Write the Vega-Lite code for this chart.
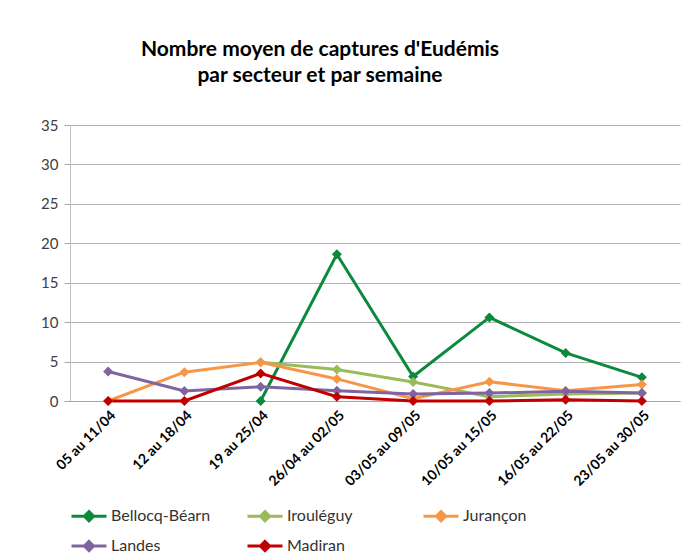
{
  "$schema": "https://vega.github.io/schema/vega-lite/v6.json",
  "width": 610,
  "height": 276,
  "autosize": "none",
  "padding": {"left": 70, "top": 125, "right": 11, "bottom": 154},
  "background": "white",
  "title": {
    "text": ["Nombre moyen de captures d'Eudémis", "par secteur et par semaine"],
    "font": "Lato",
    "fontSize": 21,
    "fontWeight": "bold",
    "color": "#000000",
    "lineHeight": 26,
    "anchor": "middle",
    "dx": -55,
    "offset": 32
  },
  "data": {
    "values": [
      {"semaine": "19 au 25/04", "secteur": "Bellocq-Béarn", "captures": 0},
      {"semaine": "26/04 au 02/05", "secteur": "Bellocq-Béarn", "captures": 18.6},
      {"semaine": "03/05 au 09/05", "secteur": "Bellocq-Béarn", "captures": 3.1},
      {"semaine": "10/05 au 15/05", "secteur": "Bellocq-Béarn", "captures": 10.6},
      {"semaine": "16/05 au 22/05", "secteur": "Bellocq-Béarn", "captures": 6.1},
      {"semaine": "23/05 au 30/05", "secteur": "Bellocq-Béarn", "captures": 3.0},
      {"semaine": "19 au 25/04", "secteur": "Irouléguy", "captures": 4.9},
      {"semaine": "26/04 au 02/05", "secteur": "Irouléguy", "captures": 4.0},
      {"semaine": "03/05 au 09/05", "secteur": "Irouléguy", "captures": 2.4},
      {"semaine": "10/05 au 15/05", "secteur": "Irouléguy", "captures": 0.55},
      {"semaine": "16/05 au 22/05", "secteur": "Irouléguy", "captures": 0.9},
      {"semaine": "23/05 au 30/05", "secteur": "Irouléguy", "captures": 1.0},
      {"semaine": "05 au 11/04", "secteur": "Jurançon", "captures": 0},
      {"semaine": "12 au 18/04", "secteur": "Jurançon", "captures": 3.65},
      {"semaine": "19 au 25/04", "secteur": "Jurançon", "captures": 4.9},
      {"semaine": "26/04 au 02/05", "secteur": "Jurançon", "captures": 2.8},
      {"semaine": "03/05 au 09/05", "secteur": "Jurançon", "captures": 0.3},
      {"semaine": "10/05 au 15/05", "secteur": "Jurançon", "captures": 2.45},
      {"semaine": "16/05 au 22/05", "secteur": "Jurançon", "captures": 1.3},
      {"semaine": "23/05 au 30/05", "secteur": "Jurançon", "captures": 2.1},
      {"semaine": "05 au 11/04", "secteur": "Landes", "captures": 3.75},
      {"semaine": "12 au 18/04", "secteur": "Landes", "captures": 1.27},
      {"semaine": "19 au 25/04", "secteur": "Landes", "captures": 1.8},
      {"semaine": "26/04 au 02/05", "secteur": "Landes", "captures": 1.3},
      {"semaine": "03/05 au 09/05", "secteur": "Landes", "captures": 0.9},
      {"semaine": "10/05 au 15/05", "secteur": "Landes", "captures": 1.0},
      {"semaine": "16/05 au 22/05", "secteur": "Landes", "captures": 1.25},
      {"semaine": "23/05 au 30/05", "secteur": "Landes", "captures": 1.0},
      {"semaine": "05 au 11/04", "secteur": "Madiran", "captures": 0},
      {"semaine": "12 au 18/04", "secteur": "Madiran", "captures": 0},
      {"semaine": "19 au 25/04", "secteur": "Madiran", "captures": 3.5},
      {"semaine": "26/04 au 02/05", "secteur": "Madiran", "captures": 0.55},
      {"semaine": "03/05 au 09/05", "secteur": "Madiran", "captures": 0},
      {"semaine": "10/05 au 15/05", "secteur": "Madiran", "captures": 0},
      {"semaine": "16/05 au 22/05", "secteur": "Madiran", "captures": 0.15},
      {"semaine": "23/05 au 30/05", "secteur": "Madiran", "captures": 0}
    ]
  },
  "encoding": {
    "x": {
      "field": "semaine",
      "type": "ordinal",
      "sort": ["05 au 11/04", "12 au 18/04", "19 au 25/04", "26/04 au 02/05", "03/05 au 09/05", "10/05 au 15/05", "16/05 au 22/05", "23/05 au 30/05"],
      "scale": {"type": "point", "padding": 0.5},
      "axis": {
        "title": null,
        "labelAngle": -45,
        "labelAlign": "right",
        "labelBaseline": "top",
        "labelFont": "Lato",
        "labelFontSize": 14,
        "labelFontWeight": "bold",
        "labelColor": "#000000",
        "labelPadding": 7,
        "ticks": false,
        "domainColor": "#A6A6A6",
        "domainWidth": 1,
        "grid": false
      }
    },
    "y": {
      "field": "captures",
      "type": "quantitative",
      "scale": {"domain": [0, 35], "nice": false},
      "axis": {
        "title": null,
        "values": [0, 5, 10, 15, 20, 25, 30, 35],
        "labelFont": "Lato",
        "labelFontSize": 15,
        "labelColor": "#404040",
        "labelPadding": 6,
        "tickSize": 6,
        "tickColor": "#A6A6A6",
        "domainColor": "#BFBFBF",
        "gridColor": "#B3B3B3",
        "gridWidth": 1
      }
    },
    "color": {
      "field": "secteur",
      "type": "nominal",
      "sort": ["Bellocq-Béarn", "Irouléguy", "Jurançon", "Landes", "Madiran"],
      "scale": {
        "domain": ["Bellocq-Béarn", "Irouléguy", "Jurançon", "Landes", "Madiran"],
        "range": ["#0B8A3E", "#9BBB59", "#F79646", "#8064A2", "#C00000"]
      },
      "legend": {
        "title": null,
        "orient": "none",
        "legendX": 0,
        "legendY": 372,
        "direction": "horizontal",
        "columns": 3,
        "gridAlign": "all",
        "columnPadding": 30,
        "rowPadding": -1,
        "symbolType": "M-1,0H1M0,-0.26L0.26,0L0,0.26L-0.26,0Z",
        "symbolSize": 1225,
        "symbolStrokeWidth": 3,
        "labelFont": "Lato",
        "labelFontSize": 16,
        "labelColor": "#333333",
        "labelOffset": 3,
        "labelLimit": 200,
        "encode": {
          "symbols": {
            "update": {
              "fill": {"scale": "color", "field": "value"},
              "stroke": {"scale": "color", "field": "value"},
              "opacity": {"value": 1}
            }
          }
        }
      }
    },
    "detail": {"field": "secteur"}
  },
  "layer": [
    {
      "mark": {"type": "line", "strokeWidth": 3}
    },
    {
      "mark": {"type": "point", "shape": "diamond", "filled": true, "size": 100, "opacity": 1}
    }
  ],
  "config": {
    "view": {"stroke": null}
  }
}
